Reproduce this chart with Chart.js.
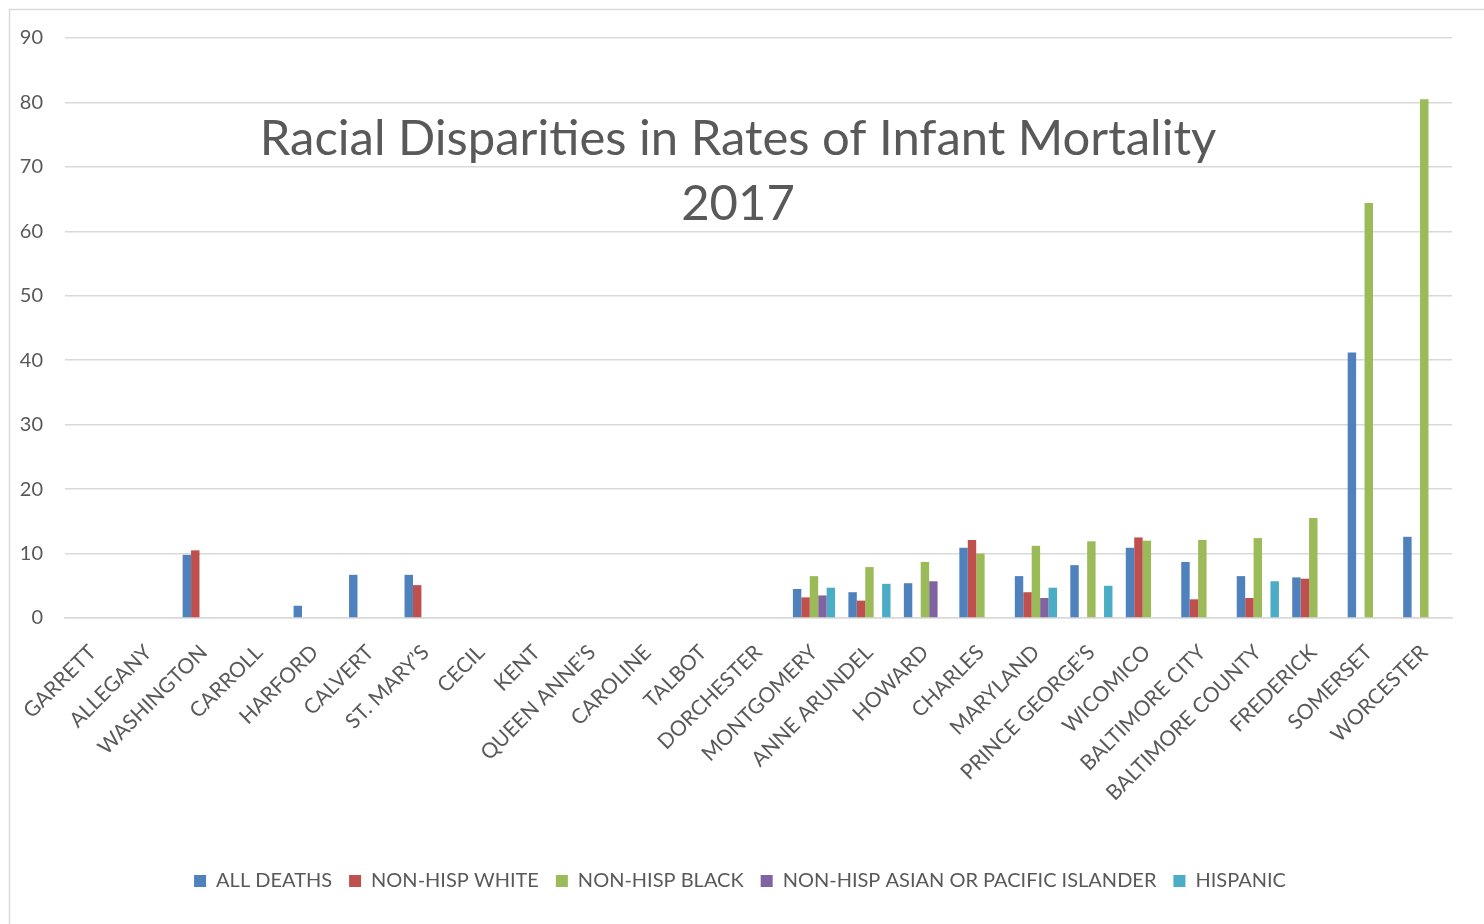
<!DOCTYPE html>
<html>
<head>
<meta charset="utf-8">
<script src="https://cdn.jsdelivr.net/npm/chart.js@4"></script>
<style>
  html, body { margin: 0; padding: 0; background: #fff; overflow: hidden; }
  #wrap { position: absolute; left: 0; top: 0; width: 1484px; height: 924px; }
</style>
</head>
<body>
<div id="wrap"><canvas id="chart"></canvas></div>
<script>
// counties, left to right as in the chart
const counties = [
  "GARRETT", "ALLEGANY", "WASHINGTON", "CARROLL", "HARFORD", "CALVERT",
  "ST. MARY\u2019S", "CECIL", "KENT", "QUEEN ANNE\u2019S", "CAROLINE", "TALBOT",
  "DORCHESTER", "MONTGOMERY", "ANNE ARUNDEL", "HOWARD", "CHARLES", "MARYLAND",
  "PRINCE GEORGE\u2019S", "WICOMICO", "BALTIMORE CITY", "BALTIMORE COUNTY",
  "FREDERICK", "SOMERSET", "WORCESTER"
];

// rates per 1,000 live births (null = no bar)
const allDeaths = [null, null, 9.8, null, 1.9, 6.7, 6.7, null, null, null, null, null,
  null, 4.5, 4.0, 5.4, 10.9, 6.5, 8.2, 10.9, 8.7, 6.5, 6.3, 41.2, 12.6];
const nonHispWhite = [null, null, 10.5, null, null, null, 5.1, null, null, null, null, null,
  null, 3.2, 2.7, null, 12.1, 4.0, null, 12.5, 2.9, 3.1, 6.1, null, null];
const nonHispBlack = [null, null, null, null, null, null, null, null, null, null, null, null,
  null, 6.5, 7.9, 8.7, 10.0, 11.2, 11.9, 12.0, 12.1, 12.4, 15.5, 64.4, 80.5];
const nonHispAsian = [null, null, null, null, null, null, null, null, null, null, null, null,
  null, 3.5, null, 5.7, null, 3.1, null, null, null, null, null, null, null];
const hispanic = [null, null, null, null, null, null, null, null, null, null, null, null,
  null, 4.7, 5.3, null, null, 4.7, 5.0, null, null, 5.7, null, null, null];

const yTicks = [0, 10, 20, 30, 40, 50, 60, 70, 80, 90];

const titleLines = ["Racial Disparities in Rates of Infant Mortality", "2017"];

const FONT = "Lato, 'Open Sans', sans-serif";
const TEXT = "#595959";
const GRID = "#d9d9d9";

// outer frame + title drawn on top of the plot, like the Excel original
const frameAndTitle = {
  id: "frameAndTitle",
  afterLayout(chart) {
    // legend sits a little right of centre in the original
    if (chart.legend) chart.legend.left += 28;
  },
  beforeDraw(chart) {
    const c = chart.ctx;
    c.save();
    c.strokeStyle = GRID;
    c.lineWidth = 1.5;
    c.strokeRect(9.5, 9.5, chart.width + 20, chart.height + 20);
    c.restore();
  },
  afterDraw(chart) {
    const c = chart.ctx;
    c.save();
    c.fillStyle = TEXT;
    c.font = "49px " + FONT;
    c.textAlign = "center";
    c.textBaseline = "middle";
    c.fillText(titleLines[0], 738, 139);
    c.fillText(titleLines[1], 738, 204);
    c.restore();
  }
};

function series(label, data, color) {
  return {
    label,
    data,
    backgroundColor: color,
    borderColor: color,
    borderWidth: 0,
    barPercentage: 1,
    categoryPercentage: 0.76
  };
}

new Chart(document.getElementById("chart"), {
  type: "bar",
  data: {
    labels: counties,
    datasets: [
      series("ALL DEATHS", allDeaths, "#4f81bd"),
      series("NON-HISP WHITE", nonHispWhite, "#c0504d"),
      series("NON-HISP BLACK", nonHispBlack, "#9bbb59"),
      series("NON-HISP ASIAN OR PACIFIC ISLANDER", nonHispAsian, "#8064a2"),
      series("HISPANIC", hispanic, "#4bacc6")
    ]
  },
  options: {
    responsive: true,
    maintainAspectRatio: false,
    animation: false,
    layout: { padding: { top: 38, right: 32, left: 0, bottom: 23 } },
    plugins: {
      title: { display: false },
      tooltip: { enabled: false },
      legend: {
        position: "bottom",
        labels: {
          color: TEXT,
          font: { family: FONT, size: 20 },
          boxWidth: 12,
          boxHeight: 12,
          padding: 17
        }
      }
    },
    scales: {
      x: {
        grid: { display: false, drawTicks: false },
        border: { display: true, color: GRID, width: 1.5 },
        ticks: {
          color: TEXT,
          font: { family: FONT, size: 21 },
          minRotation: 45,
          maxRotation: 45,
          autoSkip: false,
          padding: 22
        },
        afterFit(scale) { scale.height = 236; }
      },
      y: {
        min: 0,
        max: 90,
        afterBuildTicks(scale) { scale.ticks = yTicks.map(v => ({ value: v })); },
        grid: { color: GRID, lineWidth: 1.5, drawTicks: false },
        border: { display: false },
        ticks: {
          color: TEXT,
          font: { family: FONT, size: 20 },
          padding: 22
        },
        afterFit(scale) { scale.width = 65; }
      }
    }
  },
  plugins: [frameAndTitle]
});
</script>
</body>
</html>
